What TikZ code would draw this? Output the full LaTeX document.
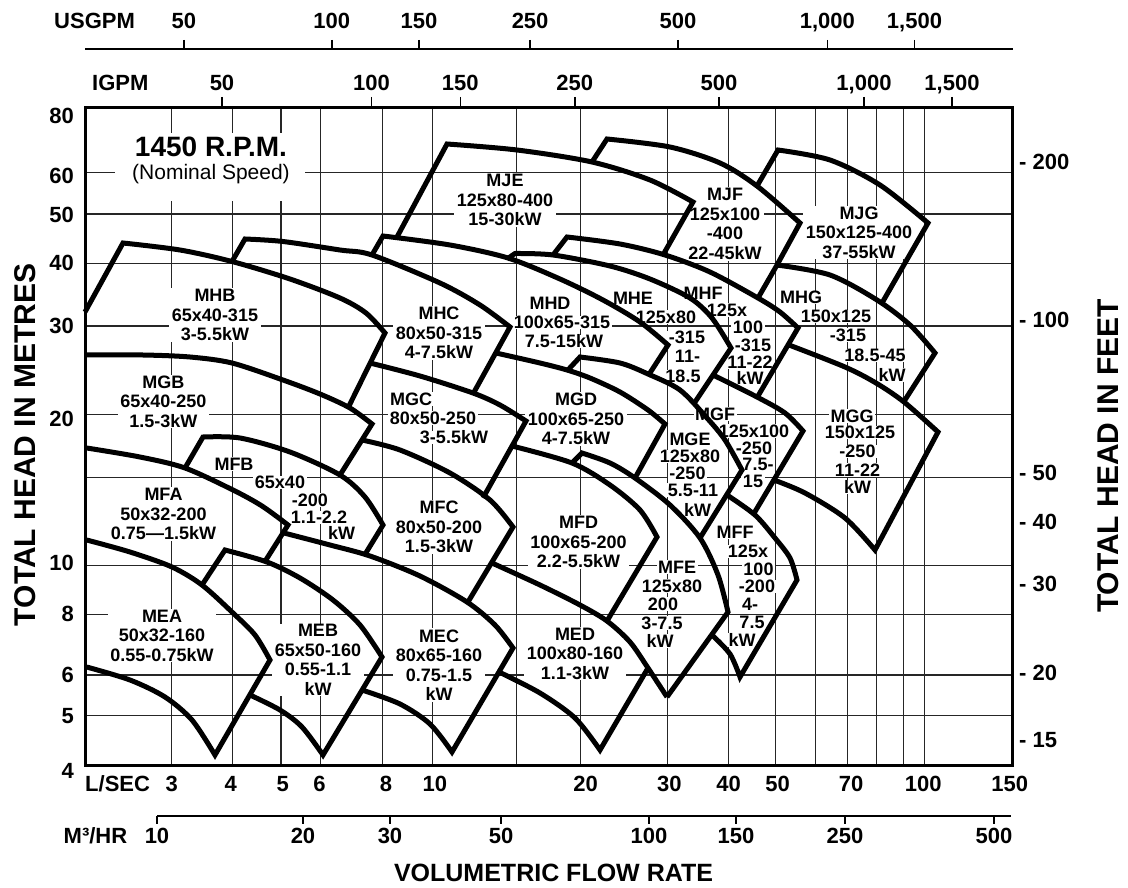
\documentclass[tikz,border=0pt]{standalone}
\usepackage{fontspec}
\setmainfont{Liberation Sans}
\begin{document}
\begin{tikzpicture}[x=1pt,y=-1pt,
  grid/.style={black!85,line width=1.1pt},
  pc/.style={line width=5pt,line join=miter},
  axl/.style={line width=1.4pt},
  ax/.style={font=\fontsize{22}{22}\selectfont\bfseries,inner sep=0pt,text height=15.8pt,text depth=0pt},
  lab/.style={fill=white,inner xsep=2.5pt,inner ysep=1pt,font=\fontsize{18}{19.5}\selectfont\bfseries,align=center},
  ln/.style={fill=white,inner xsep=1.5pt,inner ysep=0.5pt,text height=12.6pt,text depth=0pt,font=\fontsize{18}{19.5}\selectfont\bfseries}]
\useasboundingbox (0,0) rectangle (1128,888);
% grid
\foreach \x in {171.7,232.3,281,320.7,382.3,432.3,516.7,580.7,667.7,728.3,775.7,815.7,847.3,876.7,903.3,924.3}
  \draw[grid] (\x,107.7) -- (\x,765);
\foreach \y in {172.7,214,263.3,326,414.3,477.3,565.7,614.3,675,715.7}
  \draw[grid] (85.5,\y) -- (1012.7,\y);
% title block
\node[fill=white,minimum width=190pt,minimum height=68pt,inner sep=0pt] (rpmbox) at (210,167) {};
\node[font=\fontsize{28}{28}\selectfont\bfseries,inner sep=0pt] (rpm) at (211,147) {1450 R.P.M.};
\node[font=\fontsize{21}{21}\selectfont,inner sep=0pt] (nom) at (211,174) {(Nominal Speed)};
% centred labels
\node[lab] (lMHB) at (215,315) {MHB\\65x40-315\\3-5.5kW};
\node[lab] (lMGB) at (163.3,401.5) {MGB\\65x40-250\\1.5-3kW};
\node[lab] (lMJE) at (505,200) {MJE\\125x80-400\\15-30kW};
\node[lab] (lMHC) at (439,333) {MHC\\80x50-315\\4-7.5kW};
\node[lab] (lMJF) at (725,224) {MJF\\125x100\\-400\\22-45kW};
\node[lab] (lMJG) at (859,232.5) {MJG\\150x125-400\\37-55kW};
\node[lab] (lMGD) at (576,419) {MGD\\100x65-250\\4-7.5kW};
\node[lab] (lMFA) at (163.5,514) {MFA\\50x32-200\\0.75—1.5kW};
\node[lab] (lMEA) at (162,635.5) {MEA\\50x32-160\\0.55-0.75kW};
\node[lab] (lMEB) at (318,660) {MEB\\65x50-160\\0.55-1.1\\kW};
\node[lab] (lMFC) at (439,527) {MFC\\80x50-200\\1.5-3kW};
\node[lab] (lMFD) at (578.5,542) {MFD\\100x65-200\\2.2-5.5kW};
\node[lab] (lMEC) at (439,665) {MEC\\80x65-160\\0.75-1.5\\kW};
\node[lab] (lMED) at (575,653.5) {MED\\100x80-160\\1.1-3kW};
% staggered labels
\node[ln] (d1) at (550,303) {MHD};
\node[ln] (d2) at (562,322.5) {100x65-315};
\node[ln] (d3) at (564,341.5) {7.5-15kW};
\node[ln] (e1) at (633,298) {MHE};
\node[ln] (e2) at (666,317) {125x80};
\node[ln] (e3) at (687,337.5) {-315};
\node[ln] (e4) at (687.5,356.5) {11-};
\node[ln] (e5) at (683,376.5) {18.5};
\node[ln] (f1) at (703,293) {MHF};
\node[ln] (f2) at (727,310) {125x};
\node[ln] (f3) at (748,327.5) {100};
\node[ln] (f4) at (753,345) {-315};
\node[ln] (f5) at (750,362) {11-22};
\node[ln] (f6) at (750,378) {kW};
\node[ln] (g1) at (801,297.5) {MHG};
\node[ln] (g2) at (836,316.5) {150x125};
\node[ln] (g3) at (848,335) {-315};
\node[ln] (g4) at (875,355.5) {18.5-45};
\node[ln] (g5) at (892,375) {kW};
\node[ln] (c1) at (411,399) {MGC};
\node[ln] (c2) at (433,418) {80x50-250};
\node[ln] (c3) at (454,437.5) {3-5.5kW};
\node[ln] (ge1) at (690,439) {MGE};
\node[ln] (ge2) at (690,456.5) {125x80};
\node[ln] (ge3) at (687.5,473.5) {-250};
\node[ln] (ge4) at (693,490) {5.5-11};
\node[ln] (ge5) at (697.5,510) {kW};
\node[ln] (gf1) at (715,414) {MGF};
\node[ln] (gf2) at (754,431) {125x100};
\node[ln] (gf3) at (754,448) {-250};
\node[ln] (gf4) at (758,464) {7.5-};
\node[ln] (gf5) at (753,481.5) {15};
\node[ln] (gg1) at (852,416) {MGG};
\node[ln] (gg2) at (860,432.5) {150x125};
\node[ln] (gg3) at (857.5,451.5) {-250};
\node[ln] (gg4) at (857.5,470) {11-22};
\node[ln] (gg5) at (857.5,487) {kW};
\node[ln] (b1) at (234,464) {MFB};
\node[ln] (b2) at (280,482.5) {65x40};
\node[ln] (b3) at (310,500) {-200};
\node[ln] (b4) at (319,517.5) {1.1-2.2};
\node[ln] (b5) at (341.7,533.3) {kW};
\node[ln] (fe1) at (677,567) {MFE};
\node[ln] (fe2) at (672,586) {125x80};
\node[ln] (fe3) at (663,604) {200};
\node[ln] (fe4) at (662,623) {3-7.5};
\node[ln] (fe5) at (660,641) {kW};
\node[ln] (ff1) at (735,532.5) {MFF};
\node[ln] (ff2) at (748,551.5) {125x};
\node[ln] (ff3) at (758.5,569) {100};
\node[ln] (ff4) at (757,586.5) {-200};
\node[ln] (ff5) at (750,604) {4-};
\node[ln] (ff6) at (752,622) {7.5};
\node[ln] (ff7) at (742,640) {kW};
% ---- pump regions ----
% J row
\draw[pc] (397,237) -- plot[smooth] coordinates {(447,144) (517,150) (592,162) (650,180) (693,202)} -- (663,255);
\draw[pc] (592,162) -- plot[smooth] coordinates {(607,139) (670,147) (720,163) (757,186) (800,223)} -- (777,265);
\draw[pc] (757,186) -- plot[smooth] coordinates {(778,150) (830,160) (880,185) (928,223)} -- (882,303);
% H row
\draw[pc] (85,312) -- plot[smooth] coordinates {(123,243) (180,250) (232,261.5) (290,279) (340,298) (366,313) (385,333)} -- (348,408);
\draw[pc] (232,261.5) -- plot[smooth] coordinates {(245,239) (283,241.5) (340,250) (372,255) (440,283) (480,305) (510,327)} -- (473,394);
\draw[pc] (372,255) -- plot[smooth] coordinates {(383,236) (450,245) (508,258) (560,279) (603,300) (640,322) (668,345)} -- (648,376);
\draw[pc] (507,259) -- plot[smooth] coordinates {(515,253.5) (553,255) (610,266) (650,279) (690,298) (712,318) (731,348)} -- (693,405);
\draw[pc] (553,255) -- plot[smooth] coordinates {(567,237) (620,244) (665,255) (710,272) (758,298) (780,312) (798,328)} -- (758,396);
\draw[pc] (758,298) -- plot[smooth] coordinates {(777,265) (830,275) (877,300) (910,325) (935,353)} -- (903,403);
% G row
\draw[pc] plot[smooth] coordinates {(86,355) (143,355) (190,357) (232,363) (283,380) (320,394) (350,408) (372,424)} -- (340,475);
\draw[pc] plot[smooth] coordinates {(370,363) (420,376) (473,393) (500,405) (526,421)} -- (483,498);
\draw[pc] plot[smooth] coordinates {(496,353) (540,363) (567,370) (590,378) (620,392) (648,410) (665,424)} -- (635,478);
\draw[pc] (567,371) -- plot[smooth] coordinates {(580,357) (620,363) (648,374) (680,390) (707,418) (725,440) (742,470)} -- (700,538);
\draw[pc] plot[smooth] coordinates {(713,375) (757,397) (785,413) (803,431)} -- (753,515);
\draw[pc] plot[smooth] coordinates {(789,345) (845,367) (876,383) (904,402) (938,432)} -- (875,550) -- plot[smooth] coordinates {(875,550) (845,518) (805,493) (774,480)};
% F row
\draw[pc] plot[smooth] coordinates {(86.7,448) (140,457) (185,468) (233,490) (262,506) (288,525)} -- (264,563);
\draw[pc] (185,468) -- plot[smooth] coordinates {(203,437) (240,438) (290,452) (340,475) (365,497) (383,525)} -- (364,556);
\draw[pc] plot[smooth] coordinates {(362,440) (400,450) (450,473) (490,500) (513,527)} -- (468,602);
\draw[pc] plot[smooth] coordinates {(512,446) (572,463) (610,485) (640,510) (657,537)} -- (607,621);
\draw[pc] (572,463) -- plot[smooth] coordinates {(582,453) (610,463) (635,478) (670,505) (700,538) (718,575) (728,612)} -- (667,697);
\draw[pc] plot[smooth] coordinates {(727,495) (755,515) (775,538) (790,558) (797,580)} -- (740,677) -- plot[smooth] coordinates {(740,677) (730,654) (712,635)};
% E row
\draw[pc] plot[smooth] coordinates {(86.7,540) (130,552) (172,567) (202,585) (233,613) (255,635) (270,660)} -- (215,755) -- plot[smooth] coordinates {(215,755) (192,720) (165,697) (130,680) (86.7,667)};
\draw[pc] (202,585) -- plot[smooth] coordinates {(225,550) (267,562) (300,578) (333,600) (360,625) (382,657)} -- (323,755) -- plot[smooth] coordinates {(323,755) (302,727) (280,710) (250,695)};
\draw[pc] plot[smooth] coordinates {(284,533) (330,545) (370,556) (420,576) (467,602) (495,625) (513,648)} -- (452,752) -- plot[smooth] coordinates {(452,752) (430,724) (400,704) (362,690)};
\draw[pc] plot[smooth] coordinates {(492,563) (540,585) (580,605) (607,621) (630,642) (648,668) (667,697)};
\draw[pc] (648,668) -- (600,750) -- plot[smooth] coordinates {(600,750) (575,718) (540,693) (499,672)};
% frame
\draw[line width=3pt] (85.5,107.7) rectangle (1012.7,765);
% left axis
\foreach \y/\t in {116/80,176/60,215/50,263/40,326/30,419/20,563/10,614/8,675/6,716/5,771/4}
  \node[ax,anchor=east] (yl\t) at (74,\y) {\t};
% right axis
\foreach \y/\t in {162/200,320/100,472.7/50,521.7/40,583.3/30,673/20,740/15}
  \node[ax,anchor=west] (yr\t) at (1019,\y) {- \t};
% titles
\node[font=\fontsize{30}{30}\selectfont\bfseries,rotate=90,inner sep=0pt] (ytl) at (25,445) {TOTAL HEAD IN METRES};
\node[font=\fontsize{30}{30}\selectfont\bfseries,rotate=90,inner sep=0pt] (ytr) at (1108,456) {TOTAL HEAD IN FEET};
\node[font=\fontsize{25}{25}\selectfont\bfseries,inner sep=0pt] (xt) at (553.5,873) {VOLUMETRIC FLOW RATE};
% USGPM axis
\draw[axl] (85,49) -- (1013,49);
\node[ax,anchor=west] (usg) at (54,21) {USGPM};
\foreach \p/\t [count=\i] in {183.9/50,331.8/100,419/150,530.1/250,678/500,827.3/{1,000},914.5/{1,500}} {
  \draw[axl] (\p,40) -- (\p,49);
  \node[ax] (us\i) at (\p,21) {\t};
}
% IGPM axis
\node[ax,anchor=west] (ig) at (92,82.5) {IGPM};
\foreach \p/\t [count=\i] in {222/50,371.4/100,460.2/150,574.8/250,719/500,864/{1,000},952/{1,500}} {
  \draw[axl] (\p,97) -- (\p,106);
  \node[ax] (ig\i) at (\p,82.5) {\t};
}
% L/SEC axis
\node[ax,anchor=west] (ls) at (85,784) {L/SEC};
\foreach \p/\t in {171.7/3,230.8/4,282.7/5,319.5/6,385.9/8,434.9/10,585.6/20,669.3/30,728.5/40,777.5/50,851.1/70,923.2/100,1009.7/150}
  \node[ax] (lsec\t) at (\p,784) {\t};
% M3/HR axis
\draw[axl] (157,816) -- (1011,816);
\node[ax,anchor=west] (mh) at (63.5,836) {M³/HR};
\foreach \p/\t in {157/10,303/20,390/30,501/50,649/100,736/150,845/250,994/500} {
  \draw[axl] (\p,816) -- (\p,824);
  \node[ax] (mh\t) at (\p,836) {\t};
}
\end{tikzpicture}
\end{document}
